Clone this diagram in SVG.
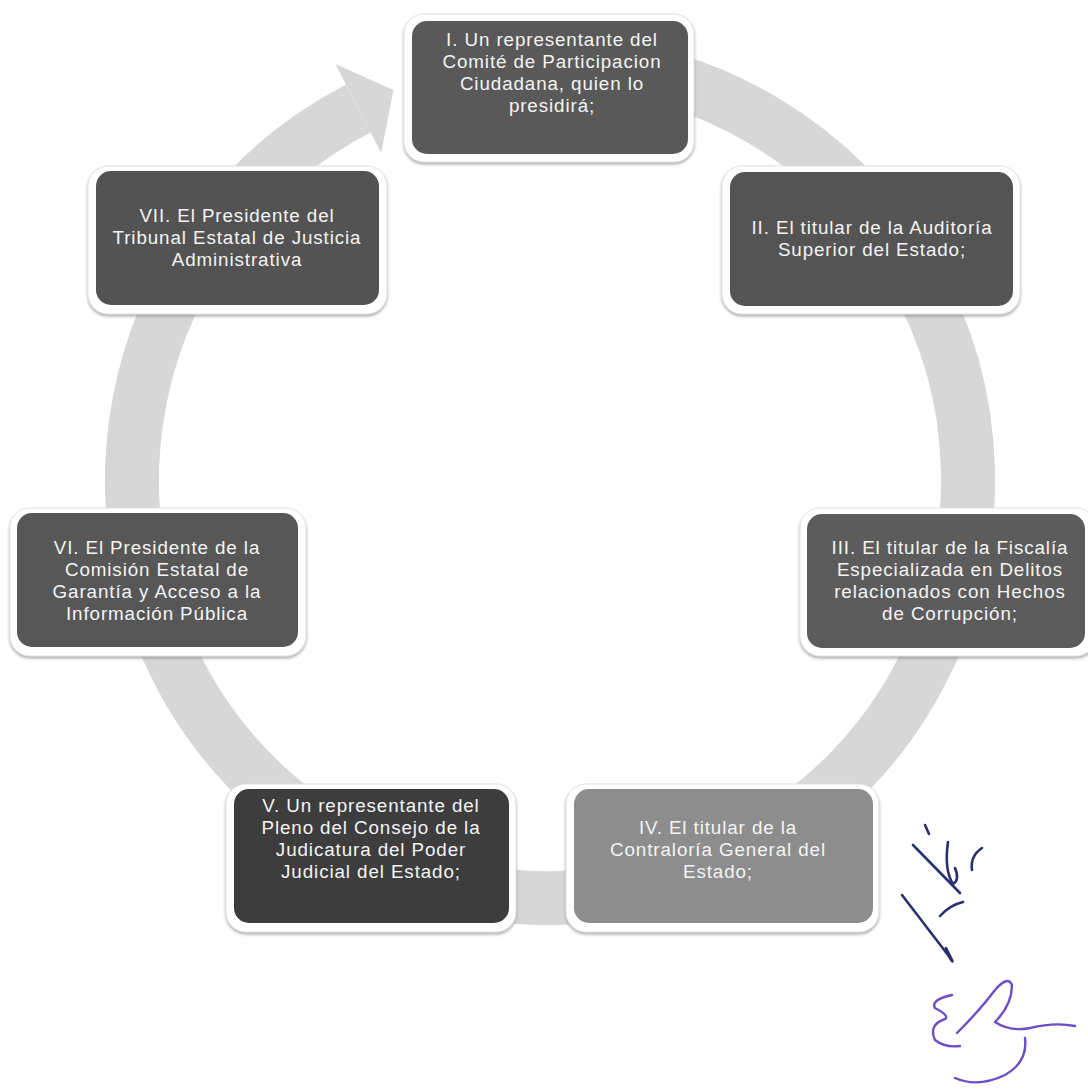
<svg xmlns="http://www.w3.org/2000/svg" width="1088" height="1089" viewBox="0 0 1088 1089">
<defs>
<filter id="sh" x="-10%" y="-10%" width="120%" height="130%">
<feDropShadow dx="0" dy="2" stdDeviation="1.8" flood-color="#8a8a8a" flood-opacity="0.7"/>
</filter>
<style>
.halo{fill:#ffffff;stroke:#e2e2e2;stroke-width:1;filter:url(#sh)}
.t{font-family:"Liberation Sans",Arial,sans-serif;font-size:18.8px;letter-spacing:0.9px;fill:#f4f4f4;text-anchor:middle}
.ring{fill:none;stroke:#d7d7d7;stroke-width:54}
.head{fill:#d7d7d7}
.sigA{fill:none;stroke:#2c2f6e;stroke-width:2.6;stroke-linecap:round;stroke-linejoin:round}
.sigB{fill:none;stroke:#6d4fc4;stroke-width:2.4;stroke-linecap:round;stroke-linejoin:round}
</style>
</defs>
<rect width="1088" height="1089" fill="#ffffff"/>
<g id="connectors">
<path class="ring" d="M 586.4 63.6 A 418 418 0 1 1 358.3 108.6"/>
<polygon class="head" points="335.4,64.1 393.5,90 381.2,153"/>
</g>
<g id="node-I">
<rect class="halo" x="404" y="14" width="290" height="148" rx="20"/>
<rect x="412" y="21" width="276" height="133" rx="15" fill="#595959"/>
<text class="t"><tspan x="552" y="46">I. Un representante del</tspan><tspan x="552" y="68">Comité de Participacion</tspan><tspan x="552" y="90">Ciudadana, quien lo</tspan><tspan x="552" y="112">presidirá;</tspan></text>
</g>
<g id="node-II">
<rect class="halo" x="722" y="166" width="298" height="148" rx="20"/>
<rect x="730" y="172" width="283" height="134" rx="15" fill="#545454"/>
<text class="t"><tspan x="872" y="234">II. El titular de la Auditoría</tspan><tspan x="872" y="256">Superior del Estado;</tspan></text>
</g>
<g id="node-III">
<rect class="halo" x="800" y="508" width="296" height="148" rx="20"/>
<rect x="807" y="514" width="278" height="134" rx="15" fill="#5c5c5c"/>
<text class="t"><tspan x="950" y="554">III. El titular de la Fiscalía</tspan><tspan x="950" y="576">Especializada en Delitos</tspan><tspan x="950" y="598">relacionados con Hechos</tspan><tspan x="950" y="620">de Corrupción;</tspan></text>
</g>
<g id="node-IV">
<rect class="halo" x="566" y="784" width="313" height="148" rx="20"/>
<rect x="574" y="789" width="299" height="134" rx="15" fill="#8d8d8d"/>
<text class="t"><tspan x="718" y="834">IV. El titular de la</tspan><tspan x="718" y="856">Contraloría General del</tspan><tspan x="718" y="878">Estado;</tspan></text>
</g>
<g id="node-V">
<rect class="halo" x="226" y="784" width="290" height="148" rx="20"/>
<rect x="234" y="789" width="275" height="134" rx="15" fill="#3d3d3d"/>
<text class="t"><tspan x="371" y="812">V. Un representante del</tspan><tspan x="371" y="834">Pleno del Consejo de la</tspan><tspan x="371" y="856">Judicatura del Poder</tspan><tspan x="371" y="878">Judicial del Estado;</tspan></text>
</g>
<g id="node-VI">
<rect class="halo" x="10" y="508" width="296" height="148" rx="20"/>
<rect x="17" y="513" width="281" height="134" rx="15" fill="#575757"/>
<text class="t"><tspan x="157" y="554">VI. El Presidente de la</tspan><tspan x="157" y="576">Comisión Estatal de</tspan><tspan x="157" y="598">Garantía y Acceso a la</tspan><tspan x="157" y="620">Información Pública</tspan></text>
</g>
<g id="node-VII">
<rect class="halo" x="88" y="166" width="299" height="148" rx="20"/>
<rect x="96" y="171" width="283" height="134" rx="15" fill="#535353"/>
<text class="t"><tspan x="237" y="222">VII. El Presidente del</tspan><tspan x="237" y="244">Tribunal Estatal de Justicia</tspan><tspan x="237" y="266">Administrativa</tspan></text>
</g>
<g id="signatures">
<path class="sigA" d="M 913 845 L 960 893"/>
<path class="sigA" d="M 902 895 L 948 955 Q 955 966 951 958 L 946 948"/>
<path class="sigA" d="M 925 825 L 929 834"/>
<path class="sigA" d="M 982 848 Q 970 856 972 870"/>
<path class="sigA" d="M 948 842 Q 944 870 953 884 Q 960 880 955 868"/>
<path class="sigA" d="M 940 916 Q 950 905 963 902"/>
<path class="sigB" d="M 952 995 Q 930 1000 935 1008 Q 950 1016 945 1019 Q 928 1025 935 1040 Q 945 1048 960 1046"/>
<path class="sigB" d="M 957 1033 Q 980 1010 995 990 Q 1008 975 1012 985 Q 1012 1005 995 1022 Q 1010 1032 1030 1028 Q 1055 1022 1075 1026"/>
<path class="sigB" d="M 1025 1038 Q 1028 1062 1005 1075 Q 978 1088 955 1078"/>
</g>
</svg>
